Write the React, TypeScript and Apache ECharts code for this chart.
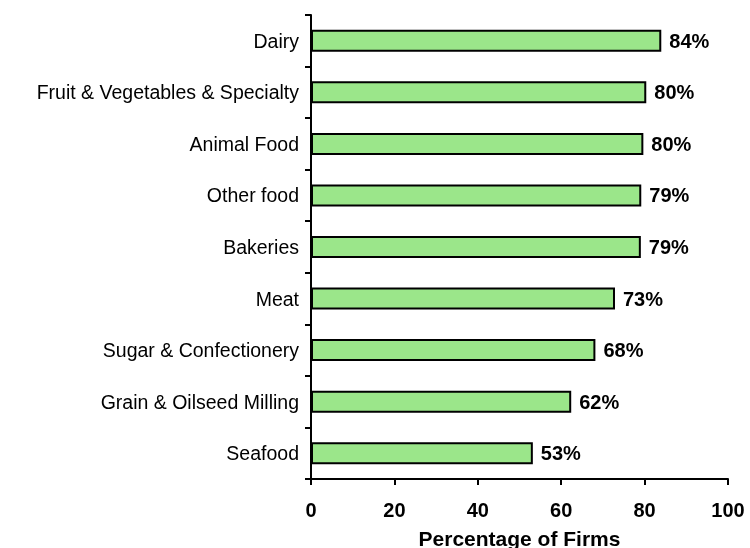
import React, { useEffect, useRef } from "react";
import * as echarts from "echarts";

const categories = [
  "Dairy",
  "Fruit & Vegetables & Specialty",
  "Animal Food",
  "Other food",
  "Bakeries",
  "Meat",
  "Sugar & Confectionery",
  "Grain & Oilseed Milling",
  "Seafood",
];
const values = [84, 80.4, 79.7, 79.2, 79.1, 72.9, 68.2, 62.4, 53.2];
const xTicks = [0, 20, 40, 60, 80, 100];

export default function App() {
  const ref = useRef<HTMLDivElement>(null);
  useEffect(() => {
    if (!ref.current) return;
    const chart = echarts.init(ref.current, null, { renderer: "svg" });
    const font = "Liberation Sans, Arial, sans-serif";
    chart.setOption({
      animation: false,
      grid: {
        left: 311,
        right: 22,
        top: 15,
        bottom: 69,
        containLabel: false,
        outerBoundsMode: "none",
      },
      xAxis: {
        type: "value",
        min: xTicks[0],
        max: xTicks[xTicks.length - 1],
        interval: 20,
        name: "Percentage of Firms",
        nameLocation: "middle",
        nameGap: 49,
        nameTextStyle: { fontFamily: font, fontSize: 21, fontWeight: "bold", color: "#000" },
        axisLine: { show: true, lineStyle: { color: "#000", width: 2 } },
        axisTick: { show: true, length: 6, lineStyle: { color: "#000", width: 2 } },
        axisLabel: { fontFamily: font, fontSize: 20, fontWeight: "bold", color: "#000", margin: 21 },
        splitLine: { show: false },
      },
      yAxis: {
        type: "category",
        data: categories,
        inverse: true,
        axisLine: { show: true, lineStyle: { color: "#000", width: 2 } },
        axisTick: { show: true, length: 6, alignWithLabel: false, lineStyle: { color: "#000", width: 2 } },
        axisLabel: { fontFamily: font, fontSize: 19.5, color: "#000", margin: 12 },
      },
      series: [
        {
          type: "bar",
          data: values,
          barWidth: 22,
          itemStyle: { color: "#9be68a", borderColor: "#000", borderWidth: 2 },
          label: {
            show: true,
            position: "right",
            distance: 8,
            formatter: (p: any) => Math.round(p.value) + "%",
            fontFamily: font,
            fontSize: 20,
            fontWeight: "bold",
            color: "#000",
          },
        },
      ],
    });
    return () => chart.dispose();
  }, []);
  return (
    <div
      ref={ref}
      style={{ position: "fixed", left: 0, top: 0, width: 750, height: 548 }}
    />
  );
}
